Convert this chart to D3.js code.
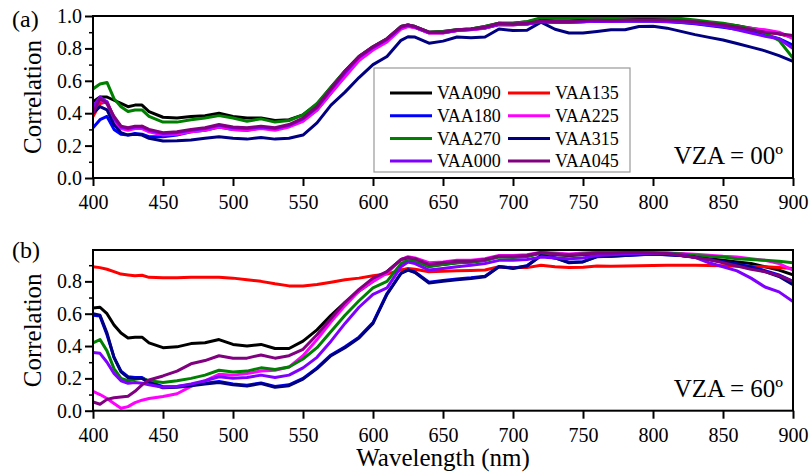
<!DOCTYPE html>
<html>
<head>
<meta charset="utf-8">
<script src="https://cdn.jsdelivr.net/npm/d3@7"></script>
<style>
  body { margin: 0; background: #fff; }
  text { font-family: "Liberation Serif", "Times New Roman", serif; }
</style>
</head>
<body>
<div id="chart"></div>
<script>
var width = 812,
    height = 476;

// wavelength samples (nm)
var wavelength = [400,405,410,415,420,425,430,435,440,450,460,470,480,490,500,510,520,530,540,550,
  560,570,580,590,600,610,620,625,630,640,650,660,670,680,690,700,710,720,730,740,750,
  760,770,780,790,800,810,820,830,840,850,860,870,880,890,900];

var seriesNames = ["VAA090","VAA135","VAA180","VAA225","VAA270","VAA315","VAA000","VAA045"];
var seriesColors = ["#000000","#ff0000","#0000ff","#ff00ff","#008000","#000080","#8000ff","#800080"];

var xTicks = [400,450,500,550,600,650,700,750,800,850,900];
var yTicksA = [0,0.2,0.4,0.6,0.8,1.0];
var yTicksB = [0,0.2,0.4,0.6,0.8];

// (a) VZA = 00
var a090 = [0.47,0.50,0.50,0.48,0.46,0.44,0.45,0.45,0.41,0.375,0.37,0.38,0.385,0.40,0.38,0.37,0.37,0.355,0.36,0.39,
  0.455,0.56,0.66,0.75,0.81,0.86,0.935,0.945,0.935,0.90,0.905,0.915,0.92,0.935,0.955,0.955,0.965,0.98,0.978,0.978,0.98,
  0.982,0.982,0.982,0.983,0.983,0.98,0.975,0.968,0.96,0.95,0.94,0.925,0.91,0.89,0.87];
var a135 = [0.38,0.46,0.47,0.37,0.31,0.30,0.31,0.32,0.29,0.27,0.275,0.29,0.30,0.32,0.305,0.30,0.31,0.30,0.32,0.355,
  0.425,0.53,0.635,0.735,0.80,0.85,0.925,0.94,0.93,0.897,0.897,0.91,0.916,0.926,0.948,0.946,0.95,0.966,0.963,0.963,0.966,
  0.97,0.968,0.97,0.97,0.97,0.968,0.964,0.958,0.95,0.94,0.93,0.915,0.90,0.89,0.87];
var a180 = [0.31,0.36,0.38,0.30,0.27,0.265,0.275,0.27,0.255,0.255,0.265,0.285,0.295,0.315,0.30,0.295,0.31,0.30,0.32,0.355,
  0.42,0.525,0.63,0.73,0.795,0.845,0.922,0.938,0.93,0.896,0.896,0.91,0.916,0.926,0.948,0.946,0.95,0.965,0.962,0.962,0.965,
  0.968,0.966,0.968,0.968,0.968,0.965,0.96,0.952,0.942,0.93,0.918,0.905,0.885,0.86,0.82];
var a225 = [0.42,0.48,0.46,0.36,0.305,0.295,0.305,0.305,0.285,0.265,0.27,0.285,0.295,0.315,0.30,0.295,0.305,0.295,0.315,0.35,
  0.42,0.525,0.625,0.725,0.79,0.84,0.92,0.935,0.928,0.895,0.895,0.91,0.915,0.925,0.948,0.946,0.95,0.965,0.962,0.962,0.965,
  0.97,0.968,0.97,0.97,0.97,0.968,0.965,0.96,0.952,0.945,0.935,0.925,0.915,0.90,0.86];
var a270 = [0.55,0.58,0.59,0.49,0.44,0.41,0.42,0.42,0.38,0.345,0.345,0.36,0.37,0.385,0.37,0.35,0.365,0.345,0.355,0.39,
  0.46,0.56,0.66,0.75,0.81,0.86,0.935,0.945,0.935,0.90,0.905,0.915,0.92,0.935,0.955,0.955,0.965,0.99,0.985,0.985,0.99,
  0.99,0.99,0.99,0.995,0.995,0.99,0.985,0.975,0.965,0.955,0.94,0.92,0.895,0.85,0.74];
var a315 = [0.40,0.44,0.42,0.33,0.28,0.265,0.27,0.265,0.245,0.228,0.23,0.235,0.245,0.255,0.245,0.24,0.25,0.24,0.245,0.265,
  0.34,0.45,0.53,0.62,0.70,0.75,0.85,0.872,0.87,0.832,0.845,0.87,0.865,0.87,0.92,0.91,0.912,0.962,0.918,0.895,0.895,
  0.905,0.915,0.915,0.935,0.937,0.925,0.905,0.885,0.868,0.852,0.83,0.808,0.785,0.755,0.72];
var a000 = [0.44,0.50,0.47,0.37,0.315,0.305,0.315,0.315,0.295,0.275,0.28,0.295,0.305,0.325,0.31,0.305,0.315,0.305,0.325,0.365,
  0.435,0.545,0.65,0.745,0.805,0.855,0.93,0.942,0.932,0.898,0.898,0.912,0.918,0.928,0.95,0.948,0.952,0.965,0.962,0.962,0.965,
  0.97,0.968,0.97,0.97,0.97,0.968,0.962,0.955,0.945,0.935,0.915,0.895,0.875,0.86,0.80];
var a045 = [0.40,0.49,0.46,0.38,0.32,0.31,0.32,0.32,0.30,0.28,0.285,0.30,0.31,0.33,0.315,0.31,0.32,0.31,0.33,0.37,
  0.44,0.55,0.66,0.75,0.81,0.86,0.935,0.945,0.935,0.90,0.90,0.915,0.92,0.93,0.955,0.95,0.955,0.97,0.965,0.965,0.97,
  0.975,0.97,0.975,0.975,0.975,0.975,0.97,0.965,0.955,0.945,0.93,0.915,0.90,0.89,0.88];

// (b) VZA = 60
var b090 = [0.635,0.64,0.60,0.53,0.48,0.45,0.455,0.455,0.42,0.39,0.395,0.415,0.42,0.44,0.41,0.40,0.41,0.385,0.385,0.43,
  0.50,0.59,0.67,0.74,0.80,0.86,0.935,0.945,0.935,0.895,0.905,0.915,0.92,0.93,0.955,0.95,0.955,0.975,0.965,0.96,0.965,
  0.97,0.97,0.975,0.975,0.975,0.97,0.96,0.95,0.94,0.93,0.92,0.91,0.89,0.87,0.84];
var b135 = [0.89,0.885,0.875,0.86,0.845,0.84,0.835,0.838,0.825,0.822,0.823,0.825,0.825,0.826,0.82,0.81,0.80,0.785,0.772,0.772,
  0.78,0.795,0.81,0.82,0.835,0.845,0.87,0.88,0.875,0.86,0.862,0.865,0.867,0.87,0.89,0.885,0.885,0.90,0.89,0.885,0.888,
  0.895,0.893,0.895,0.897,0.898,0.90,0.90,0.90,0.898,0.896,0.894,0.892,0.89,0.885,0.88];
var b180 = [0.59,0.585,0.47,0.33,0.245,0.21,0.205,0.205,0.18,0.148,0.15,0.16,0.17,0.18,0.165,0.158,0.172,0.15,0.16,0.2,
  0.265,0.345,0.395,0.455,0.545,0.725,0.85,0.872,0.858,0.795,0.805,0.815,0.822,0.832,0.892,0.882,0.897,0.958,0.945,0.918,0.922,
  0.952,0.955,0.96,0.965,0.968,0.965,0.96,0.95,0.935,0.922,0.908,0.89,0.866,0.84,0.80];
var b225 = [0.12,0.10,0.075,0.045,0.015,0.025,0.05,0.065,0.075,0.088,0.105,0.15,0.185,0.225,0.22,0.23,0.245,0.25,0.27,0.34,
  0.44,0.55,0.65,0.74,0.80,0.85,0.935,0.953,0.945,0.915,0.92,0.93,0.93,0.94,0.96,0.96,0.965,0.98,0.975,0.97,0.975,
  0.98,0.98,0.98,0.978,0.976,0.975,0.972,0.968,0.962,0.955,0.95,0.94,0.93,0.91,0.87];
var b270 = [0.42,0.44,0.37,0.26,0.20,0.185,0.195,0.20,0.185,0.175,0.185,0.20,0.22,0.25,0.24,0.245,0.265,0.255,0.27,0.32,
  0.39,0.49,0.59,0.68,0.76,0.80,0.91,0.932,0.925,0.89,0.905,0.915,0.92,0.93,0.95,0.948,0.955,0.975,0.97,0.965,0.97,
  0.975,0.975,0.975,0.975,0.975,0.975,0.97,0.96,0.955,0.95,0.94,0.935,0.93,0.925,0.915];
var b315 = [0.60,0.59,0.48,0.33,0.24,0.205,0.20,0.20,0.175,0.142,0.145,0.155,0.165,0.175,0.16,0.152,0.168,0.145,0.155,0.195,
  0.26,0.34,0.39,0.45,0.54,0.72,0.85,0.87,0.855,0.79,0.80,0.81,0.818,0.828,0.89,0.88,0.895,0.96,0.945,0.915,0.92,
  0.955,0.955,0.96,0.965,0.97,0.965,0.96,0.95,0.935,0.92,0.905,0.885,0.86,0.83,0.78];
var b000 = [0.36,0.355,0.30,0.23,0.185,0.17,0.175,0.17,0.16,0.145,0.15,0.165,0.185,0.21,0.20,0.205,0.22,0.205,0.22,0.265,
  0.33,0.43,0.54,0.64,0.72,0.76,0.89,0.92,0.91,0.87,0.88,0.89,0.90,0.91,0.93,0.93,0.935,0.95,0.945,0.94,0.945,
  0.96,0.965,0.97,0.972,0.974,0.972,0.965,0.948,0.915,0.89,0.865,0.82,0.765,0.735,0.675];
var b045 = [0.055,0.04,0.07,0.08,0.085,0.09,0.12,0.16,0.19,0.215,0.245,0.29,0.31,0.34,0.325,0.325,0.345,0.325,0.34,0.38,
  0.47,0.57,0.67,0.75,0.82,0.86,0.935,0.948,0.94,0.905,0.915,0.925,0.925,0.935,0.955,0.955,0.96,0.978,0.97,0.962,0.97,
  0.975,0.975,0.978,0.978,0.976,0.972,0.96,0.948,0.935,0.915,0.895,0.875,0.86,0.835,0.80];

var panelA = [a090,a135,a180,a225,a270,a315,a000,a045];
var panelB = [b090,b135,b180,b225,b270,b315,b000,b045];

var svg = d3.select("#chart").append("svg")
    .attr("width", width)
    .attr("height", height);

svg.append("rect").attr("width", width).attr("height", height).attr("fill", "#fff");

var x = d3.scaleLinear()
    .domain([400, 900])
    .range([93, 793]);

function drawPanel(opts) {
  var y = d3.scaleLinear().domain(opts.yDomain).range([opts.bottom, opts.top]);
  var g = svg.append("g");

  var clipId = "clip" + opts.tag;
  svg.append("clipPath").attr("id", clipId)
    .append("rect")
      .attr("x", x.range()[0]).attr("y", opts.top)
      .attr("width", x.range()[1] - x.range()[0])
      .attr("height", opts.bottom - opts.top);

  var line = d3.line()
      .x(function(d, i) { return x(wavelength[i]); })
      .y(function(d) { return y(d); });

  g.append("g")
      .attr("clip-path", "url(#" + clipId + ")")
    .selectAll("path")
      .data(opts.series)
    .enter().append("path")
      .attr("d", line)
      .attr("fill", "none")
      .attr("stroke", function(d, i) { return seriesColors[i]; })
      .attr("stroke-width", 3)
      .attr("stroke-linejoin", "round");

  // minor y ticks
  var minor = d3.range(0.1, opts.yDomain[1], 0.2);
  g.append("g")
    .attr("transform", "translate(" + x.range()[0] + ",0)")
    .call(d3.axisLeft(y).tickValues(minor).tickSize(4).tickFormat(""))
    .call(function(s) { s.select(".domain").remove(); })
    .selectAll("line").attr("stroke-width", 1.5);

  var yAxis = g.append("g")
    .attr("transform", "translate(" + x.range()[0] + ",0)")
    .call(d3.axisLeft(y).tickValues(opts.yTicks).tickSize(8).tickPadding(3)
      .tickFormat(d3.format(".1f")));
  yAxis.select(".domain").remove();
  yAxis.selectAll("line").attr("stroke-width", 2);
  yAxis.selectAll("text").attr("font-size", 20).attr("fill", "#000")
    .style("font-family", "'Liberation Serif', serif");

  var xAxis = g.append("g")
    .attr("transform", "translate(0," + opts.bottom + ")")
    .call(d3.axisBottom(x).tickValues(xTicks).tickSize(8).tickPadding(9));
  xAxis.select(".domain").remove();
  xAxis.selectAll("line").attr("stroke-width", 2);
  xAxis.selectAll("text").attr("font-size", 20).attr("fill", "#000")
    .style("font-family", "'Liberation Serif', serif");

  // frame
  g.append("rect")
    .attr("x", x.range()[0]).attr("y", opts.top)
    .attr("width", x.range()[1] - x.range()[0])
    .attr("height", opts.bottom - opts.top)
    .attr("fill", "none")
    .attr("stroke", "#000")
    .attr("stroke-width", 2);

  g.append("text")
    .attr("transform", "translate(41," + (opts.top + opts.bottom) / 2 + ") rotate(-90)")
    .attr("text-anchor", "middle")
    .attr("font-size", 25)
    .text("Correlation");

  g.append("text")
    .attr("x", 12).attr("y", opts.labelY)
    .attr("font-size", 24)
    .text(opts.label);

  g.append("text")
    .attr("x", 783).attr("y", opts.bottom - 14)
    .attr("text-anchor", "end")
    .attr("font-size", 25)
    .text(opts.vza);
}

drawPanel({ tag: "a", series: panelA, yDomain: [0, 1], yTicks: yTicksA,
  top: 16, bottom: 178, label: "(a)", labelY: 27, vza: "VZA = 00\u00ba" });
drawPanel({ tag: "b", series: panelB, yDomain: [0, 0.994], yTicks: yTicksB,
  top: 250, bottom: 410.7, label: "(b)", labelY: 258, vza: "VZA = 60\u00ba" });

svg.append("text")
  .attr("x", 443).attr("y", 466)
  .attr("text-anchor", "middle")
  .attr("font-size", 25)
  .text("Wavelength (nm)");

// legend
var legend = svg.append("g").attr("transform", "translate(374,68)");
legend.append("rect")
  .attr("width", 256).attr("height", 104)
  .attr("fill", "#fff")
  .attr("stroke", "#999")
  .attr("stroke-width", 1.2);

var item = legend.selectAll(".item")
    .data(seriesNames)
  .enter().append("g")
    .attr("class", "item")
    .attr("transform", function(d, i) {
      return "translate(" + (16 + (i % 2) * 118) + "," + (25 + Math.floor(i / 2) * 22.7) + ")";
    });

item.append("line")
  .attr("x1", 0).attr("x2", 42)
  .attr("stroke", function(d, i) { return seriesColors[i]; })
  .attr("stroke-width", 3);

item.append("text")
  .attr("x", 47).attr("dy", "0.35em")
  .attr("font-size", 18)
  .text(function(d) { return d; });
</script>
</body>
</html>
